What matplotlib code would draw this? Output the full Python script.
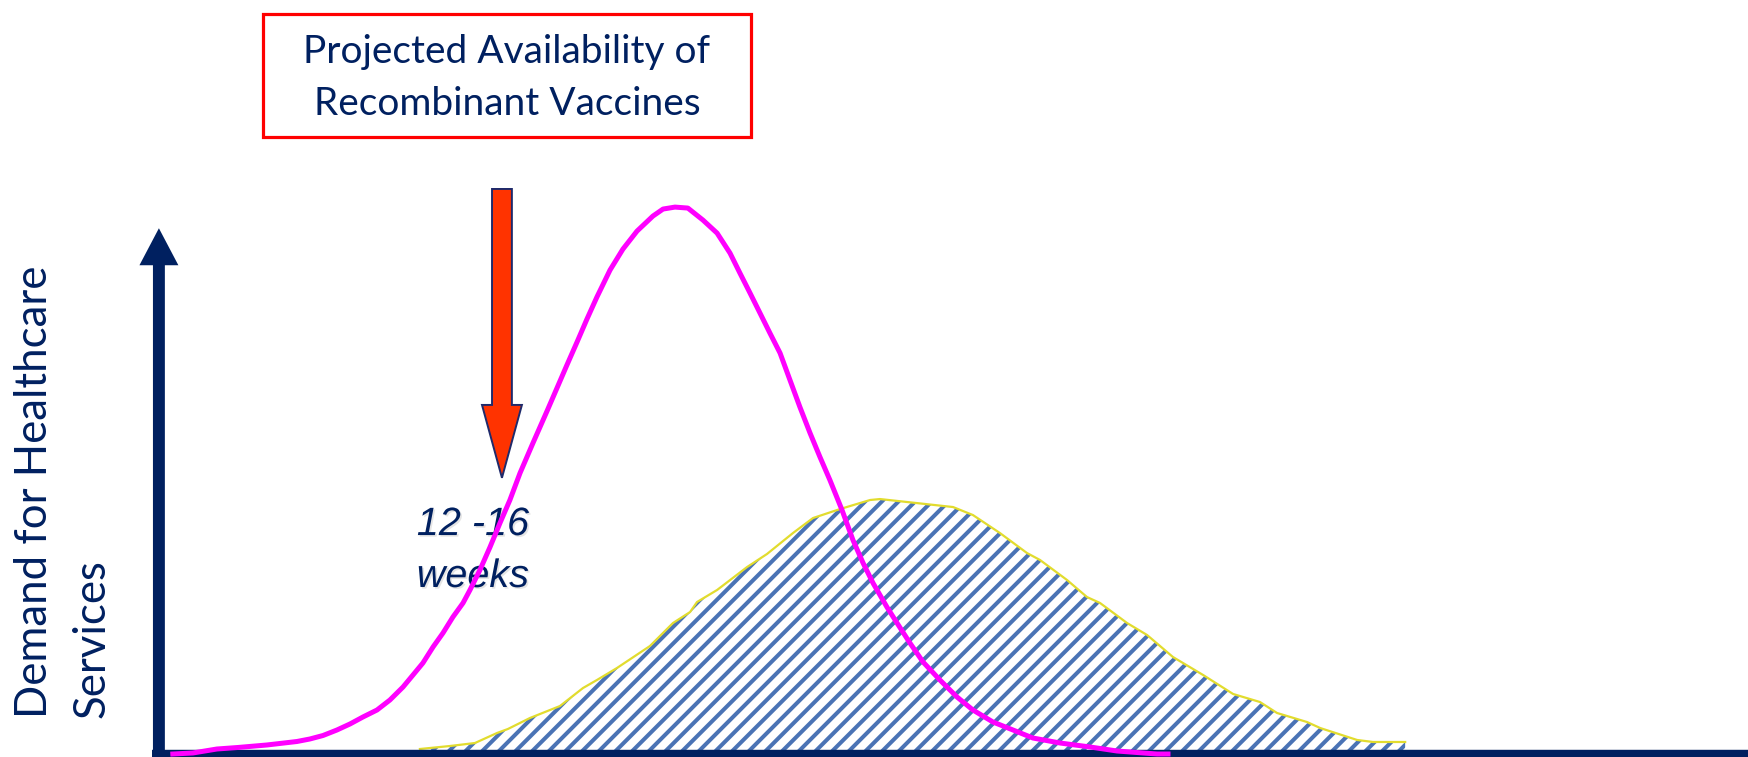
import matplotlib.pyplot as plt
import matplotlib.patheffects as pe
from matplotlib.patches import FancyArrow, Rectangle

# horizontal axis in weeks, vertical axis as relative demand (peak of the first wave = 100)
wave1_weeks = [0.70, 1.71, 2.92, 3.98, 5.44, 6.95, 7.60, 8.26, 8.96, 9.62,
               10.27, 10.98, 11.63, 12.29, 12.79, 13.29, 13.80, 14.30, 14.80, 15.31,
               15.66, 16.16, 16.67, 17.17, 17.67, 18.18, 18.83, 19.54, 20.04, 20.54,
               21.05, 21.55, 22.05, 22.71, 23.36, 24.07, 24.87, 25.38, 25.98, 26.63,
               27.39, 28.10, 28.75, 29.25, 29.76, 30.26, 30.76, 31.27, 31.77, 32.27,
               32.78, 33.28, 33.78, 34.39, 34.94, 35.45, 35.95, 36.65, 37.16, 37.81,
               38.47, 39.32, 40.18, 40.98, 41.99, 43.00, 44.00, 45.37, 46.88, 48.24,
               50.25, 50.80]
wave1_demand = [-0.37, -0.18, 0.55, 0.83, 1.29, 1.93, 2.39, 3.03, 4.04, 5.15,
                6.43, 7.72, 9.56, 11.95, 14.15, 16.36, 19.30, 21.87, 24.81, 27.39,
                29.78, 33.45, 37.68, 42.09, 46.32, 51.28, 56.79, 62.68, 66.90, 71.13,
                75.36, 79.59, 83.63, 88.59, 92.45, 95.76, 98.52, 99.81, 100.17, 99.99,
                97.78, 95.39, 91.72, 88.04, 84.36, 80.69, 77.01, 73.34, 68.37, 63.41,
                58.63, 54.22, 49.99, 44.48, 38.97, 34.74, 31.06, 26.65, 23.71, 20.03,
                16.54, 13.23, 10.11, 7.72, 5.51, 4.04, 2.57, 1.65, 0.92, 0.18,
                -0.37, -0.37]

wave2_weeks = [13.14, 14.65, 15.91, 17.02, 17.57, 18.68, 20.19, 21.35, 22.05, 23.06,
               24.72, 25.88, 26.74, 27.09, 28.10, 29.61, 30.61, 31.92, 32.93, 34.29,
               35.80, 36.30, 39.98, 40.98, 42.34, 43.70, 44.36, 45.72, 46.72, 47.38,
               48.74, 49.75, 51.05, 52.57, 54.08, 55.43, 56.29, 57.80, 58.46, 60.32,
               61.12, 62.74]
wave2_demand = [0.55, 1.10, 1.65, 3.49, 4.23, 6.25, 8.45, 11.76, 13.23, 15.44,
                19.48, 23.71, 25.73, 27.57, 29.78, 34.00, 36.39, 40.25, 43.01, 44.66,
                46.32, 46.50, 45.03, 43.56, 40.25, 36.58, 35.29, 31.61, 28.49, 27.39,
                23.71, 21.50, 17.46, 14.15, 10.66, 9.19, 7.17, 5.51, 4.41, 2.21,
                1.84, 1.84]

vaccine_week = 17.27
box_lines = ['Projected Availability of', 'Recombinant Vaccines']
lag_lines = ['12 -16', 'weeks']
ylabel_lines = ['Demand for Healthcare', 'Services']

navy = '#002060'
plt.rcParams['hatch.linewidth'] = 2.9

fig = plt.figure(figsize=(17.48, 7.57), dpi=100)
ax = fig.add_axes([0, 0, 1, 1])
ax.set_xlim(-8.0, 80.0)
ax.set_ylim(-0.92, 138.24)
ax.axis('off')

# second wave: hatched area with a yellow outline
ax.fill_between(wave2_weeks, 0, wave2_demand, facecolor='white',
                edgecolor='#4a73b5', hatch='//', linewidth=0, zorder=1)
ax.plot(wave2_weeks, wave2_demand, color='#e2dc2e', lw=1.6, zorder=2)

# axes drawn as thick navy arrows
ax.plot([-0.35, 80.0], [-0.55, -0.55], color=navy, lw=7.5,
        solid_capstyle='butt', zorder=3)
ax.add_patch(FancyArrow(0, -0.92, 0, 97.2, width=0.6, head_width=1.96,
                        head_length=6.8, length_includes_head=True,
                        color=navy, lw=0, zorder=3))

# first wave
ax.plot(wave1_weeks, wave1_demand, color='#ff00ff', lw=3.6, zorder=4)

# vaccine availability arrow
ax.add_patch(FancyArrow(vaccine_week, 103.5, 0, -53.1, width=1.0,
                        head_width=2.01, head_length=13.4,
                        length_includes_head=True, facecolor='#ff3300',
                        edgecolor='#1f2a6b', lw=1.4, zorder=3))

ax.add_patch(Rectangle((5.24, 113.04), 24.57, 22.6, facecolor='white',
                       edgecolor='#ff0000', lw=2.3, zorder=3))
ax.text(17.52, 126.6, box_lines[0], ha='center', va='baseline',
        family='Lato', fontsize=28, color=navy, zorder=5)
ax.text(17.52, 117.1, box_lines[1], ha='center', va='baseline',
        family='Lato', fontsize=28, color=navy, zorder=5)

shadow = [pe.withSimplePatchShadow(offset=(1.2, -1.2), shadow_rgbFace='gray', alpha=0.2)]
ax.text(15.81, 39.88, lag_lines[0], ha='center', va='baseline', style='italic',
        family='Liberation Sans', fontsize=28.5, color=navy, zorder=3,
        path_effects=shadow)
ax.text(15.81, 30.33, lag_lines[1], ha='center', va='baseline', style='italic',
        family='Liberation Sans', fontsize=28.5, color=navy, zorder=3,
        path_effects=shadow)

ax.text(-5.64, 6.25, ylabel_lines[0], rotation=90, rotation_mode='anchor',
        ha='left', va='baseline', family='Lato', fontsize=31.5, color=navy)
ax.text(-2.72, 6.25, ylabel_lines[1], rotation=90, rotation_mode='anchor',
        ha='left', va='baseline', family='Lato', fontsize=31.5, color=navy)

fig.savefig('out.png', dpi=100)
